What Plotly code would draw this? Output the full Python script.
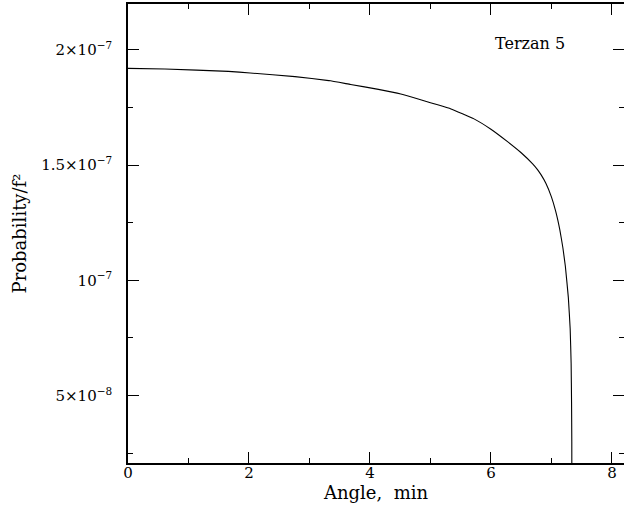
import plotly.graph_objects as go

# Data
angle_min = [0.0, 0.61, 1.66, 2.02, 2.76, 3.32, 3.68, 4.14, 4.51, 5.12, 5.34, 5.72,
             6.0, 6.28, 6.50, 6.69, 6.77, 6.83, 6.91, 7.0, 7.07, 7.14, 7.19, 7.23,
             7.28, 7.31, 7.326, 7.333, 7.337, 7.338]
probability = [1.919e-7, 1.9165e-7, 1.906e-7, 1.899e-7, 1.883e-7, 1.866e-7, 1.849e-7,
               1.828e-7, 1.808e-7, 1.761e-7, 1.743e-7, 1.700e-7, 1.655e-7, 1.600e-7,
               1.553e-7, 1.505e-7, 1.480e-7, 1.457e-7, 1.420e-7, 1.362e-7, 1.300e-7,
               1.218e-7, 1.140e-7, 1.062e-7, 0.925e-7, 0.79e-7, 0.64e-7, 0.47e-7,
               0.3e-7, 0.0]

x_tickvals = [0, 2, 4, 6, 8]
x_ticktext = ["0", "2", "4", "6", "8"]
x_minor = [1, 3, 5, 7]
y_tickvals = [5e-8, 1e-7, 1.5e-7, 2e-7]
y_ticktext = ["5×10<sup>−8</sup>", "10<sup>−7</sup>", "1.5×10<sup>−7</sup>", "2×10<sup>−7</sup>"]
y_minor = [2.5e-8, 7.5e-8, 1.25e-7, 1.75e-7]

FONT = "DejaVu Serif"

fig = go.Figure()
fig.add_trace(go.Scatter(x=angle_min, y=probability, mode="lines",
                         line=dict(color="black", width=1.1, shape="spline", smoothing=0.3),
                         showlegend=False))

fig.add_annotation(x=0.81, y=0.915, xref="paper", yref="paper", text="Terzan 5",
                   xanchor="center", yanchor="middle",
                   showarrow=False, font=dict(family=FONT, size=16, color="black"))

axis_common = dict(showline=True, linecolor="black", linewidth=1.6, mirror="allticks",
                   ticks="inside", ticklen=11, tickwidth=1, tickcolor="black",
                   showgrid=False, zeroline=False, automargin=False,
                   tickfont=dict(family=FONT, size=15, color="black"))

fig.update_xaxes(range=[0, 8.2], tickmode="array", tickvals=x_tickvals, ticktext=x_ticktext,
                 minor=dict(ticks="inside", ticklen=5, tickwidth=1, tickcolor="black",
                            tickmode="array", tickvals=x_minor),
                 title=dict(text="Angle,&nbsp; min", font=dict(family=FONT, size=18, color="black"),
                            standoff=6),
                 ticklabelstandoff=-5,
                 **axis_common)
fig.update_yaxes(range=[2.08e-8, 2.198e-7], tickmode="array", tickvals=y_tickvals, ticktext=y_ticktext,
                 minor=dict(ticks="inside", ticklen=5, tickwidth=1, tickcolor="black",
                            tickmode="array", tickvals=y_minor),
                 title=dict(text="Probability/f²", font=dict(family=FONT, size=18, color="black"),
                            standoff=10),
                 ticklabelstandoff=11,
                 **axis_common)

fig.update_layout(width=624, height=516, margin=dict(l=128, r=0, t=4, b=53),
                  plot_bgcolor="white", paper_bgcolor="white")

fig.write_html("out.html")
